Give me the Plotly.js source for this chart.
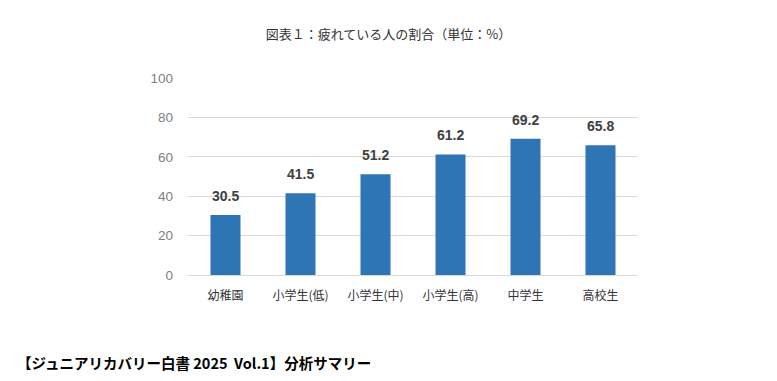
<!DOCTYPE html>
<html>
<head>
<meta charset="utf-8">
<script src="https://cdn.plot.ly/plotly-3.0.1.min.js"></script>
<style>html,body{margin:0;padding:0;background:#fff;}#chart{width:777px;height:381px;}</style>
</head>
<body>
<div id="chart"></div>
<script>
const categories = ["幼稚園", "小学生(低)", "小学生(中)", "小学生(高)", "中学生", "高校生"];
const values = [30.5, 41.5, 51.2, 61.2, 69.2, 65.8];
const yTicks = [0, 20, 40, 60, 80, 100];

const jp = '"Noto Sans CJK JP", "Noto Sans", sans-serif';

const trace = {
  type: 'bar',
  x: categories,
  y: values,
  width: 0.4,
  marker: {color: '#2E75B6'},
  hoverinfo: 'none'
};

const labelAnns = categories.map((c, i) => ({
  x: c, y: values[i], xref: 'x', yref: 'y',
  text: '<b>' + values[i].toFixed(1) + '</b>',
  showarrow: false, yanchor: 'bottom', yshift: 9,
  font: {family: '"Liberation Sans", Arial, sans-serif', size: 14, color: '#404040'}
}));

const layout = {
  width: 777, height: 381,
  margin: {l: 188, r: 139, t: 78, b: 106},
  paper_bgcolor: '#fff', plot_bgcolor: '#fff',
  showlegend: false,
  bargap: 0.6,
  title: {
    text: '図表１：疲れている人の割合（単位：%）',
    font: {family: jp, size: 13, color: '#333'},
    x: 0.5, xref: 'container', xanchor: 'center',
    y: 1 - 34/381, yref: 'container', yanchor: 'middle'
  },
  xaxis: {
    type: 'category',
    tickfont: {family: jp, size: 12, color: '#333'},
    showline: true, linecolor: '#d9d9d9', linewidth: 1,
    ticks: '', ticklen: 0,
    ticklabelstandoff: 10
  },
  yaxis: {
    range: [0, 100],
    tickvals: yTicks,
    tickfont: {family: '"Liberation Sans", Arial, sans-serif', size: 13.5, color: '#808080'},
    gridcolor: '#d9d9d9', gridwidth: 1,
    zeroline: false,
    ticklabelstandoff: 14
  },
  annotations: labelAnns.concat([{
    text: '<b>【ジュニアリカバリー白書 2025&nbsp;&nbsp;Vol.1】分析サマリー</b>',
    xref: 'paper', yref: 'paper',
    x: (15 - 188) / 450, y: (275 - 362) / 197,
    xanchor: 'left', yanchor: 'middle',
    showarrow: false,
    font: {family: jp, size: 14.5, color: '#000'}
  }])
};

Plotly.newPlot('chart', [trace], layout, {displayModeBar: false, staticPlot: true});
</script>
</body>
</html>
